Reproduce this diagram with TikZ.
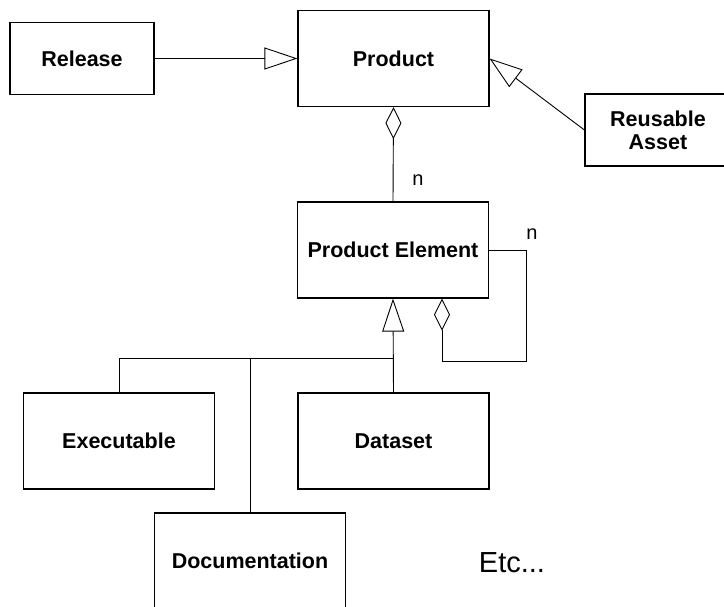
\documentclass[tikz,border=0pt]{standalone}
\usepackage{fontspec}
\setmainfont{Liberation Sans}
\usetikzlibrary{arrows.meta}
\begin{document}
\begin{tikzpicture}[x=1pt,y=-1pt,
  cls/.style={draw, line width=1.2pt, inner sep=0pt, align=center,
    minimum width=191pt, minimum height=96pt,
    font=\fontsize{21.5}{24}\selectfont\bfseries},
  conn/.style={line width=0.9pt},
  gen/.style={conn, -{Triangle[open, length=33pt, width=22pt, line width=0.9pt]}},
  agg/.style={conn, -{Diamond[open, length=32pt, width=16pt, line width=0.9pt]}},
  lbl/.style={inner sep=0pt, font=\fontsize{20}{23}\selectfont}]
\useasboundingbox (0,0) rectangle (724,607);
\fill[white] (0,0) rectangle (724,607);
\clip (0,0) rectangle (724,607);

\node[cls, minimum width=144pt, minimum height=72pt] (rel) at (82,58.5) {Release};
\node[cls] (prod) at (393.5,58.5) {Product};
\node[cls, minimum width=146pt, minimum height=72pt] (reuse) at (658,130) {Reusable\\[-1pt]Asset};
\node[cls] (pe) at (393,250) {Product Element};
\node[cls] (ex) at (119,441) {Executable};
\node[cls] (ds) at (393.5,441) {Dataset};
\node[cls] (doc) at (250,561) {Documentation};
\node[lbl, font=\fontsize{29}{33}\selectfont] (etc) at (512,563) {Etc...};
\node[lbl] (n1) at (418,180) {n};
\node[lbl] (n2) at (532,234) {n};

\coordinate (bus) at (393,358);
\coordinate (loopa) at (526,250);
\coordinate (loopb) at (442,361);

\draw[gen] (rel.east) -- (prod.west);
\draw[gen] (reuse.west) -- (prod.east);
\draw[agg] (pe.north) -- (prod.south);
\draw[agg] (pe.east) -- (loopa) |- (loopb) -- ([xshift=49pt]pe.south);
\draw[gen] (ds.north) -- (pe.south);
\draw[conn] (ex.north) |- (bus);
\draw[conn] (doc.north) -- (doc.north |- bus);
\end{tikzpicture}
\end{document}
